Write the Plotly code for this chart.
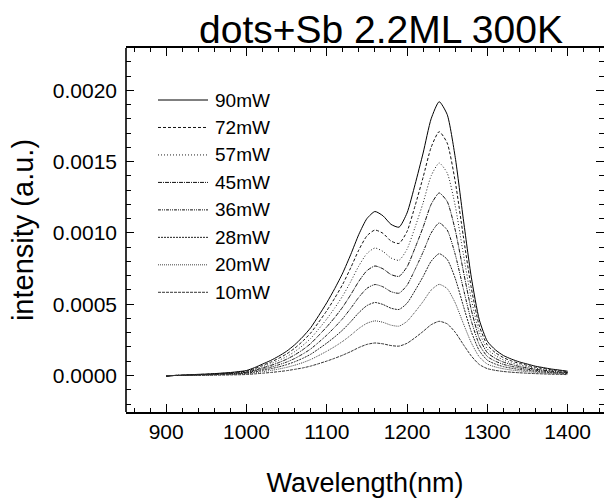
import plotly.graph_objects as go

# Wavelength grid (nm)
wavelength = list(range(900, 1401, 10))

# Intensities in units of 1e-4 a.u.
p90 = [-0.05, 0.0, 0.02, 0.05, 0.08, 0.10, 0.13, 0.17, 0.21, 0.27, 0.35, 0.55, 0.80, 1.05, 1.35, 1.70, 2.15, 2.70, 3.35, 4.20,
       5.10, 6.10, 7.20, 8.50, 9.90, 11.0, 11.5, 11.2, 10.6, 10.4, 11.4, 13.4, 15.6, 18.0, 19.2, 18.3, 15.3, 11.0, 6.90, 3.90,
       2.40, 1.80, 1.40, 1.15, 0.95, 0.80, 0.65, 0.55, 0.45, 0.38, 0.30]
p72 = [-0.04, 0.0, 0.02, 0.04, 0.07, 0.09, 0.12, 0.15, 0.19, 0.24, 0.31, 0.49, 0.71, 0.93, 1.20, 1.51, 1.91, 2.40, 2.98, 3.74,
       4.54, 5.43, 6.41, 7.57, 8.81, 9.79, 10.2, 9.97, 9.43, 9.26, 10.1, 11.9, 13.9, 16.0, 17.1, 16.3, 13.6, 9.79, 6.14, 3.47,
       2.14, 1.60, 1.25, 1.02, 0.85, 0.71, 0.58, 0.49, 0.40, 0.34, 0.27]
p57 = [-0.04, 0.0, 0.02, 0.04, 0.06, 0.08, 0.10, 0.13, 0.16, 0.21, 0.27, 0.43, 0.62, 0.82, 1.05, 1.32, 1.67, 2.10, 2.60, 3.26,
       3.96, 4.74, 5.59, 6.60, 7.69, 8.55, 8.94, 8.70, 8.24, 8.08, 8.86, 10.4, 12.1, 14.0, 14.9, 14.2, 11.9, 8.55, 5.36, 3.03,
       1.86, 1.40, 1.09, 0.89, 0.74, 0.62, 0.51, 0.43, 0.35, 0.30, 0.23]
p45 = [-0.03, 0.0, 0.01, 0.03, 0.05, 0.07, 0.09, 0.11, 0.14, 0.18, 0.23, 0.37, 0.53, 0.70, 0.90, 1.14, 1.44, 1.80, 2.24, 2.81,
       3.41, 4.07, 4.81, 5.68, 6.61, 7.35, 7.68, 7.48, 7.08, 6.95, 7.62, 8.95, 10.4, 12.0, 12.8, 12.2, 10.2, 7.35, 4.61, 2.61,
       1.60, 1.20, 0.94, 0.77, 0.63, 0.53, 0.43, 0.37, 0.30, 0.25, 0.20]
p36 = [-0.03, 0.0, 0.01, 0.03, 0.04, 0.06, 0.07, 0.09, 0.12, 0.15, 0.19, 0.31, 0.44, 0.58, 0.75, 0.94, 1.19, 1.50, 1.86, 2.33,
       2.83, 3.39, 4.00, 4.72, 5.49, 6.11, 6.38, 6.22, 5.88, 5.77, 6.33, 7.44, 8.66, 9.99, 10.7, 10.2, 8.49, 6.11, 3.83, 2.16,
       1.33, 1.00, 0.78, 0.64, 0.53, 0.44, 0.36, 0.31, 0.25, 0.21, 0.17]
p28 = [-0.02, 0.0, 0.01, 0.02, 0.04, 0.04, 0.06, 0.08, 0.09, 0.12, 0.16, 0.24, 0.36, 0.47, 0.60, 0.76, 0.96, 1.20, 1.49, 1.87,
       2.27, 2.71, 3.20, 3.78, 4.41, 4.90, 5.12, 4.98, 4.72, 4.63, 5.07, 5.96, 6.94, 8.01, 8.54, 8.14, 6.81, 4.90, 3.07, 1.74,
       1.07, 0.80, 0.62, 0.51, 0.42, 0.36, 0.29, 0.24, 0.20, 0.17, 0.13]
p20 = [-0.02, 0.0, 0.01, 0.02, 0.03, 0.03, 0.04, 0.06, 0.07, 0.09, 0.12, 0.18, 0.27, 0.35, 0.45, 0.57, 0.72, 0.90, 1.12, 1.40,
       1.70, 2.03, 2.40, 2.83, 3.30, 3.66, 3.83, 3.73, 3.53, 3.46, 3.80, 4.46, 5.19, 5.99, 6.39, 6.09, 5.09, 3.66, 2.30, 1.30,
       0.80, 0.60, 0.47, 0.38, 0.32, 0.27, 0.22, 0.18, 0.15, 0.13, 0.10]
p10 = [-0.01, 0.0, 0.0, 0.01, 0.02, 0.02, 0.03, 0.03, 0.04, 0.05, 0.07, 0.11, 0.16, 0.21, 0.27, 0.34, 0.43, 0.53, 0.66, 0.83,
       1.01, 1.21, 1.43, 1.68, 1.96, 2.18, 2.28, 2.22, 2.10, 2.06, 2.26, 2.65, 3.09, 3.56, 3.80, 3.62, 3.03, 2.18, 1.37, 0.77,
       0.48, 0.36, 0.28, 0.23, 0.19, 0.16, 0.13, 0.11, 0.09, 0.08, 0.06]

series_names = ["90mW", "72mW", "57mW", "45mW", "36mW", "28mW", "20mW", "10mW"]
series_values = [p90, p72, p57, p45, p36, p28, p20, p10]
UNIT = 1e-4

# Styles
dashes = ["solid", "3px,2px", "1px,2px", "4px,1px,1px,1px", "3px,1px,1px,1px,1px,1px", "2px,1px", "1px,1px", "3px,1px"]
colors = ["#000", "#111", "#222", "#111", "#111", "#222", "#444", "#333"]

W, H = 604, 502
L, R, T, B = 126, 0, 48, 90
FONT = "Liberation Sans, Arial, sans-serif"

fig = go.Figure()
for name, vals, dsh, col in zip(series_names, series_values, dashes, colors):
    fig.add_trace(go.Scatter(
        x=wavelength, y=[v * UNIT for v in vals], mode="lines", name=name,
        line=dict(color=col, width=1, dash=dsh, shape="spline", smoothing=0.6),
        showlegend=False))

# manual legend (pixel layout -> paper coords)
pw = W - L - R
ph = H - T - B
row0, rowstep = 100.0, 27.47
for i, (name, dsh, col) in enumerate(zip(series_names, dashes, colors)):
    yp = row0 + i * rowstep
    ypap = (H - B - yp) / ph
    fig.add_shape(type="line", xref="paper", yref="paper",
                  x0=(158 - L) / pw, x1=(208 - L) / pw, y0=ypap, y1=ypap,
                  line=dict(color=col, width=1, dash=dsh))
    fig.add_annotation(xref="paper", yref="paper", x=(213 - L) / pw, y=ypap,
                       text=name, showarrow=False, xanchor="left", yanchor="middle",
                       font=dict(family=FONT, size=19, color="#000"))

# left axis line
fig.add_shape(type="line", xref="paper", yref="paper", x0=0, x1=0, y0=0, y1=1,
              line=dict(color="#000", width=1.6))

fig.update_layout(
    width=W, height=H,
    margin=dict(l=L, r=R, t=T, b=B, pad=0),
    paper_bgcolor="white", plot_bgcolor="white",
    font=dict(family=FONT, color="#000"),
    title=dict(text="dots+Sb 2.2ML 300K", x=381 / W, xanchor="center",
               y=1 - 29 / H, yanchor="middle",
               font=dict(family=FONT, size=39, color="#000")),
)
fig.update_xaxes(
    range=[850, 850 + pw / 0.803], showgrid=False, zeroline=False,
    showline=True, linecolor="#000", linewidth=1.6, mirror="allticks",
    ticks="inside", ticklen=8, tickwidth=1.3, tickcolor="#000",
    tickvals=[900, 1000, 1100, 1200, 1300, 1400],
    minor=dict(ticks="inside", ticklen=4, tickwidth=1.2, tickcolor="#000", dtick=20, tick0=900, showgrid=False),
    tickfont=dict(family=FONT, size=21, color="#000"),
    ticklabelstandoff=0,
    title=dict(text="Wavelength(nm)", font=dict(family=FONT, size=27, color="#000"), standoff=31),
)
fig.update_yaxes(
    range=[-0.000256, 0.0022966], showgrid=False, zeroline=False,
    showline=False, mirror="allticks",
    ticks="inside", ticklen=8, tickwidth=1.3, tickcolor="#000",
    tickvals=[0, 0.0005, 0.0010, 0.0015, 0.0020], tickformat=".4f",
    minor=dict(ticks="inside", ticklen=5, tickwidth=1.2, tickcolor="#000", dtick=0.0001, tick0=0, showgrid=False),
    tickfont=dict(family=FONT, size=21, color="#000"),
    ticklabelstandoff=8,
    title=dict(text="intensity (a.u.)", font=dict(family=FONT, size=29, color="#000"), standoff=10),
)

fig.write_html("out.html")
